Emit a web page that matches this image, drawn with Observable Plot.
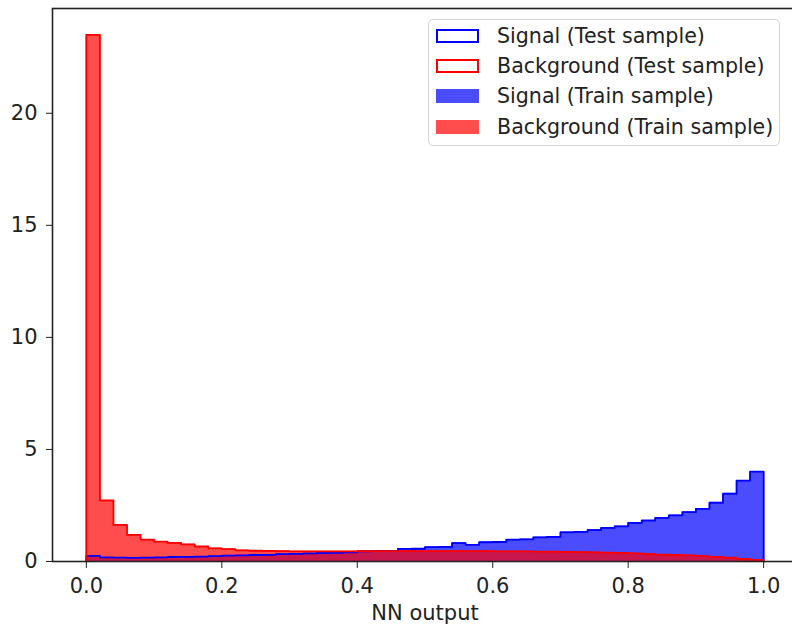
<!DOCTYPE html>
<html>
<head>
<meta charset="utf-8">
<script src="https://cdn.jsdelivr.net/npm/d3@7"></script>
<script src="https://cdn.jsdelivr.net/npm/@observablehq/plot@0.6"></script>
<style>
  html, body { margin: 0; padding: 0; background: #fff; }
  #chart { position: relative; width: 792px; height: 625px; overflow: hidden; font-family: "DejaVu Sans", sans-serif; }
  #chart svg { display: block; }
  .legend { position: absolute; left: 428px; top: 19px; width: 352px; height: 127px; box-sizing: border-box;
            border: 1px solid #d4d4d4; border-radius: 5px; background: rgba(255,255,255,0.85); }
  .row { position: absolute; left: 7px; height: 30px; display: flex; align-items: center;
         font-size: 20.6px; color: #222; white-space: nowrap; }
  .sw { width: 43px; height: 14px; box-sizing: border-box; margin-right: 18px; }
</style>
</head>
<body>
<div id="chart"></div>
<script>
// NN output histogram: 50 equal bins over [0, 1], density-normalised
const xMin = 0, xMax = 1;
const xTicks = [0, 0.2, 0.4, 0.6, 0.8, 1.0];
const yTicks = [0, 5, 10, 15, 20];

const signalTrain = [
  0.25, 0.17, 0.17, 0.16, 0.17, 0.17, 0.20, 0.21, 0.22, 0.23,
  0.26, 0.27, 0.28, 0.30, 0.33, 0.34, 0.35, 0.38, 0.39, 0.40,
  0.45, 0.46, 0.46, 0.56, 0.57, 0.64, 0.65, 0.83, 0.74, 0.86,
  0.86, 0.98, 0.99, 1.08, 1.09, 1.31, 1.32, 1.41, 1.50, 1.57,
  1.72, 1.83, 1.95, 2.06, 2.20, 2.35, 2.64, 3.04, 3.61, 4.01
];
const backgroundTrain = [
  23.5, 2.72, 1.63, 1.19, 0.98, 0.89, 0.83, 0.76, 0.67, 0.59,
  0.55, 0.50, 0.48, 0.47, 0.46, 0.45, 0.45, 0.45, 0.45, 0.45,
  0.46, 0.46, 0.46, 0.46, 0.46, 0.46, 0.46, 0.46, 0.46, 0.46,
  0.45, 0.45, 0.45, 0.44, 0.44, 0.43, 0.42, 0.41, 0.40, 0.38,
  0.36, 0.34, 0.31, 0.29, 0.27, 0.24, 0.21, 0.17, 0.12, 0.07
];
const signalTest = [
  0.25, 0.18, 0.17, 0.16, 0.17, 0.18, 0.20, 0.21, 0.22, 0.24,
  0.26, 0.27, 0.29, 0.30, 0.33, 0.34, 0.36, 0.38, 0.39, 0.41,
  0.45, 0.46, 0.47, 0.56, 0.57, 0.64, 0.65, 0.82, 0.74, 0.86,
  0.87, 0.98, 0.99, 1.08, 1.10, 1.30, 1.32, 1.40, 1.50, 1.57,
  1.72, 1.83, 1.95, 2.06, 2.20, 2.35, 2.62, 3.02, 3.61, 4.01
];
const backgroundTest = [
  23.5, 2.73, 1.63, 1.19, 0.98, 0.89, 0.83, 0.76, 0.67, 0.59,
  0.55, 0.50, 0.48, 0.47, 0.46, 0.45, 0.45, 0.45, 0.45, 0.45,
  0.46, 0.46, 0.46, 0.46, 0.46, 0.46, 0.46, 0.46, 0.46, 0.46,
  0.45, 0.45, 0.45, 0.44, 0.44, 0.43, 0.42, 0.41, 0.40, 0.38,
  0.36, 0.34, 0.31, 0.29, 0.27, 0.24, 0.21, 0.17, 0.12, 0.07
];

// Turn bin heights into a closed step outline (left edge up, across, right edge down)
function stepPoints(values) {
  const n = values.length, w = (xMax - xMin) / n;
  const pts = [{x: xMin, y: 0}];
  values.forEach((v, i) => pts.push({x: xMin + i * w, y: v}));
  pts.push({x: xMax, y: values[n - 1]}, {x: xMax, y: 0});
  return pts;
}

const sigTrainPts = stepPoints(signalTrain);
const bkgTrainPts = stepPoints(backgroundTrain);
const sigTestPts = stepPoints(signalTest);
const bkgTestPts = stepPoints(backgroundTest);

const yTop = 1.05 * d3.max(backgroundTrain);

const chart = Plot.plot({
  width: 792,
  height: 625,
  marginLeft: 52,
  marginRight: -5,
  marginTop: 8,
  marginBottom: 64,
  style: {fontFamily: "DejaVu Sans, sans-serif", fontSize: "21px", color: "#222", background: "white"},
  x: {domain: [-0.05, 1.05]},
  y: {domain: [0, yTop]},
  marks: [
    Plot.areaY(sigTrainPts, {x: "x", y: "y", curve: "step-after", fill: "blue", fillOpacity: 0.7}),
    Plot.line(sigTrainPts, {x: "x", y: "y", curve: "step-after", stroke: "blue", strokeOpacity: 0.7, strokeWidth: 1.2}),
    Plot.areaY(bkgTrainPts, {x: "x", y: "y", curve: "step-after", fill: "red", fillOpacity: 0.7}),
    Plot.line(bkgTrainPts, {x: "x", y: "y", curve: "step-after", stroke: "red", strokeOpacity: 0.7, strokeWidth: 1.2}),
    Plot.line(sigTestPts, {x: "x", y: "y", curve: "step-after", stroke: "blue", strokeWidth: 1.8}),
    Plot.line(bkgTestPts, {x: "x", y: "y", curve: "step-after", stroke: "red", strokeWidth: 1.8}),
    Plot.frame({stroke: "#222", strokeWidth: 1.6}),
    Plot.axisY({ticks: yTicks, tickSize: 6, tickPadding: 9, label: null}),
    Plot.axisX({ticks: xTicks, tickFormat: d3.format(".1f"), tickSize: 7, tickPadding: 10,
                label: "NN output", labelAnchor: "center", labelArrow: "none", labelOffset: 58})
  ]
});

const root = document.getElementById("chart");
root.appendChild(chart);

// Legend box in the upper right of the axes
const legendItems = [
  {label: "Signal (Test sample)", style: "border:2px solid blue; background:transparent;"},
  {label: "Background (Test sample)", style: "border:2px solid red; background:transparent;"},
  {label: "Signal (Train sample)", style: "background:rgba(0,0,255,0.7);"},
  {label: "Background (Train sample)", style: "background:rgba(255,0,0,0.7);"}
];
const legend = document.createElement("div");
legend.className = "legend";
legendItems.forEach((d, i) => {
  const row = document.createElement("div");
  row.className = "row";
  row.style.top = (1 + i * 30.2) + "px";
  row.innerHTML = `<span class="sw" style="${d.style}"></span><span>${d.label}</span>`;
  legend.appendChild(row);
});
root.appendChild(legend);
</script>
</body>
</html>
